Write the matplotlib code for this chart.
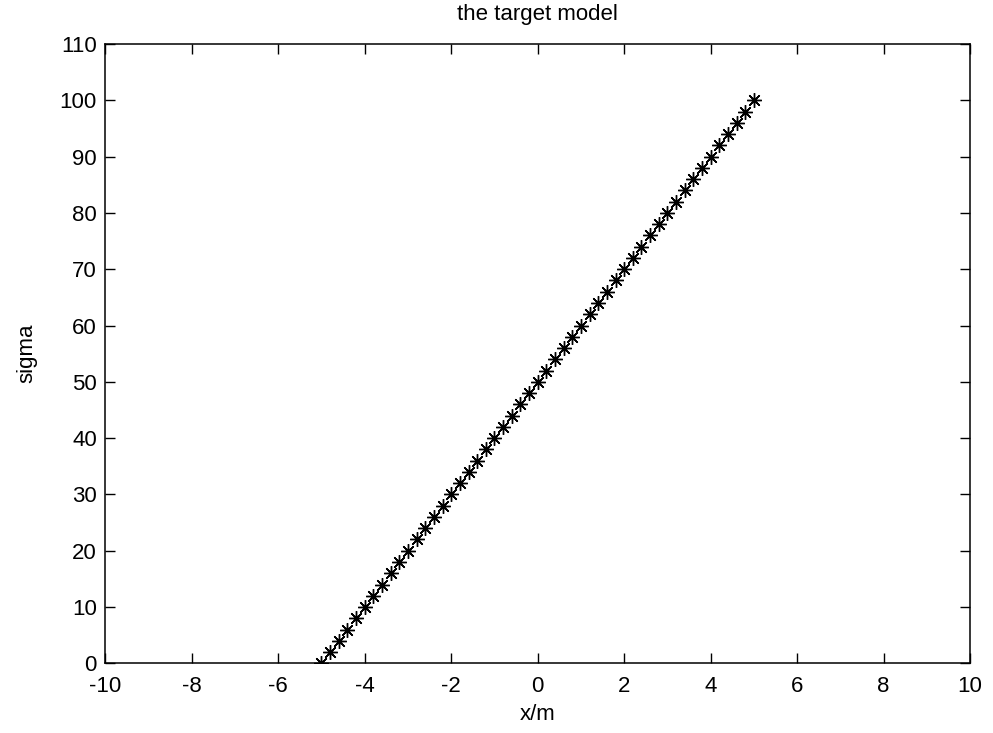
import matplotlib
matplotlib.use("Agg")
import matplotlib.pyplot as plt

plt.rcParams['font.family'] = ['Liberation Sans', 'DejaVu Sans']
plt.rcParams['axes.unicode_minus'] = False

x_pos = [-5.0, -4.8, -4.6, -4.4, -4.2, -4.0, -3.8, -3.6, -3.4, -3.2,
         -3.0, -2.8, -2.6, -2.4, -2.2, -2.0, -1.8, -1.6, -1.4, -1.2,
         -1.0, -0.8, -0.6, -0.4, -0.2, 0.0, 0.2, 0.4, 0.6, 0.8,
         1.0, 1.2, 1.4, 1.6, 1.8, 2.0, 2.2, 2.4, 2.6, 2.8,
         3.0, 3.2, 3.4, 3.6, 3.8, 4.0, 4.2, 4.4, 4.6, 4.8, 5.0]
sigma = [0, 2, 4, 6, 8, 10, 12, 14, 16, 18,
         20, 22, 24, 26, 28, 30, 32, 34, 36, 38,
         40, 42, 44, 46, 48, 50, 52, 54, 56, 58,
         60, 62, 64, 66, 68, 70, 72, 74, 76, 78,
         80, 82, 84, 86, 88, 90, 92, 94, 96, 98, 100]

x_ticks = [-10, -8, -6, -4, -2, 0, 2, 4, 6, 8, 10]
y_ticks = [0, 10, 20, 30, 40, 50, 60, 70, 80, 90, 100, 110]

fig = plt.figure(figsize=(9.93, 7.33), dpi=100)
ax = fig.add_axes([0.106, 0.095, 0.871, 0.845])

# asterisk markers with a dark centre, like the old MATLAB '*'
ax.plot(x_pos, sigma, linestyle='none', marker=(8, 2, 0), markersize=10.5,
        markeredgewidth=1.0, color='black')
ax.plot(x_pos, sigma, linestyle='none', marker='s', markersize=3,
        color='black')

ax.set_xlim(-10, 10)
ax.set_ylim(0, 110)
ax.set_xticks(x_ticks)
ax.set_yticks(y_ticks)
ax.tick_params(direction='in', top=True, right=True, length=7, width=1,
               labelsize=16)
ax.tick_params(axis='x', pad=9)
ax.tick_params(axis='y', pad=6)
for s in ax.spines.values():
    s.set_linewidth(1.1)

ax.set_title('the target model', fontsize=16, pad=17)
ax.set_xlabel('x/m', fontsize=16, labelpad=5)
ax.set_ylabel('sigma', fontsize=16, labelpad=16)

fig.savefig('out.png', dpi=100)
